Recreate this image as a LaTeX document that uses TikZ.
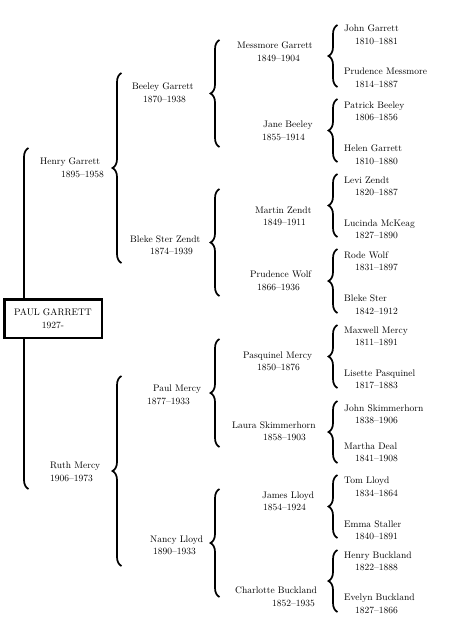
\documentclass[tikz,border=0pt]{standalone}
\usepackage{tikz}
\usetikzlibrary{decorations.pathreplacing}

\tikzset{
  pedbrace/.style={decorate, decoration={brace, amplitude=9pt}, line width=1.7pt},
  lbl/.style={anchor=west, inner sep=0pt, align=left, font=\fontsize{9.5}{12.5}\selectfont},
  selfbox/.style={draw, line width=2.5pt, fill=white, minimum width=97.5pt, minimum height=38.5pt,
    inner sep=0pt, align=center, font=\fontsize{9.5}{12.5}\selectfont}
}

\begin{document}
\begin{tikzpicture}[x=1pt,y=-1pt]
\useasboundingbox (0,0) rectangle (450,627);
% braces: name/stem x/top/bottom
\foreach \n/\x/\t/\b in {g1/24/148/489,
  g2a/117/73/263, g2b/117/376/566,
  g3a/215/40/147, g3b/215/189/296, g3c/215/339/447, g3d/215/489/597,
  g4a/333/25/87, g4b/333/99/162, g4c/333/174/237, g4d/333/249/313,
  g4e/333/325/388, g4f/333/401/463, g4g/333/475/538, g4h/333/550/612}
{
  \coordinate (\n-t) at (\x+4.5,\t);
  \coordinate (\n-b) at (\x+4.5,\b);
  \draw[pedbrace] (\n-b) -- (\n-t);
}
\node[selfbox] (paul) at (53,318.5) {PAUL GARRETT\\1927-};
% ancestors: name/left x/centre y/indent of years/who/years
\foreach \id/\x/\y/\dx/\who/\yrs in {
  henry/40/168/21/Henry Garrett/1895--1958,
  ruth/50/472/0/Ruth Mercy/1906--1973,
  beeley/132/93/11/Beeley Garrett/1870--1938,
  blekez/130/245.5/20/Bleke Ster Zendt/1874--1939,
  paulm/153/395/-6/Paul Mercy/1877--1933,
  nancy/150/545.5/3/Nancy Lloyd/1890--1933,
  messmore/237/52/20/Messmore Garrett/1849--1904,
  jane/263/131/-1/Jane Beeley/1855--1914,
  martin/255/216.5/8/Martin Zendt/1849--1911,
  prudw/250/281/7/Prudence Wolf/1866--1936,
  pasq/243/361.5/14/Pasquinel Mercy/1850--1876,
  laura/232/431/31/Laura Skimmerhorn/1858--1903,
  james/262/501.5/1/James Lloyd/1854--1924,
  charl/235/596.5/37/Charlotte Buckland/1852--1935,
  johng/344/35/11/John Garrett/1810--1881,
  prudm/344/78/11/Prudence Messmore/1814--1887,
  patrick/344/111.5/11/Patrick Beeley/1806--1856,
  helen/344/155/11/Helen Garrett/1810--1880,
  levi/344/186.5/11/Levi Zendt/1820--1887,
  lucinda/344/229.5/11/Lucinda McKeag/1827--1890,
  rode/344/261.5/11/Rode Wolf/1831--1897,
  blekes/344/305/11/Bleke Ster/1842--1912,
  maxwell/344/336.5/11/Maxwell Mercy/1811--1891,
  lisette/344/379.5/11/Lisette Pasquinel/1817--1883,
  johns/344/414/11/John Skimmerhorn/1838--1906,
  martha/344/452.5/11/Martha Deal/1841--1908,
  tom/344/487/11/Tom Lloyd/1834--1864,
  emma/344/530/11/Emma Staller/1840--1891,
  henryb/344/561.5/11/Henry Buckland/1822--1888,
  evelyn/344/604/11/Evelyn Buckland/1827--1866}
{
  \node[lbl] (\id) at (\x,\y) {\who\\\hspace*{\dx pt}\yrs};
}
\end{tikzpicture}
\end{document}
